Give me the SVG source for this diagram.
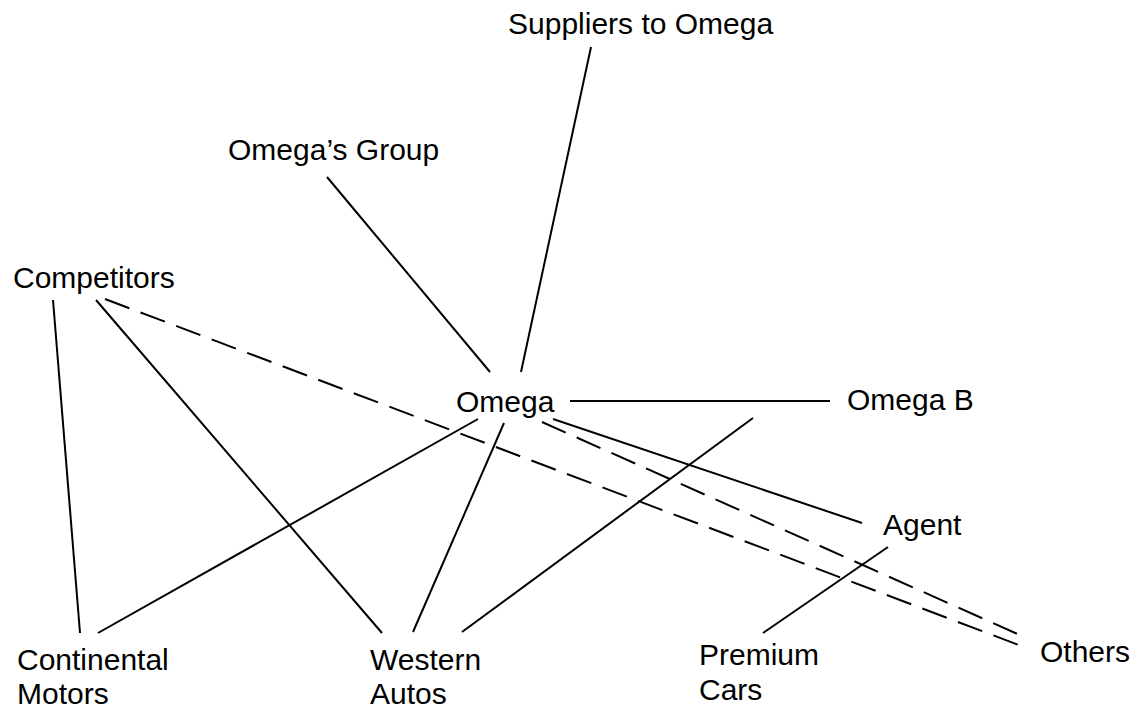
<svg xmlns="http://www.w3.org/2000/svg" width="1138" height="709" viewBox="0 0 1138 709">
  <style>
    .lbl { font-family: "Liberation Sans", Arial, sans-serif; font-size: 30px; fill: #000; }
    .ln { stroke: #000; stroke-width: 2; fill: none; stroke-linecap: butt; }
    .dash { stroke-dasharray: 26 12; }
  </style>
  <rect width="1138" height="709" fill="#fff"/>

  <g id="connectors">
    <!-- solid ties -->
    <line class="ln" x1="591" y1="47" x2="521" y2="372"/>
    <line class="ln" x1="327" y1="177" x2="490" y2="372"/>
    <line class="ln" x1="53" y1="300" x2="80" y2="633"/>
    <line class="ln" x1="96" y1="300" x2="382" y2="633"/>
    <line class="ln" x1="478" y1="419" x2="98" y2="633"/>
    <line class="ln" x1="504" y1="423" x2="413" y2="632"/>
    <line class="ln" x1="570" y1="401" x2="830" y2="401"/>
    <line class="ln" x1="553" y1="419" x2="862" y2="523"/>
    <line class="ln" x1="753" y1="418" x2="462" y2="632"/>
    <line class="ln" x1="888" y1="547" x2="763" y2="633"/>
    <!-- dashed ties -->
    <line class="ln dash" x1="105" y1="299" x2="1024" y2="647"/>
    <line class="ln dash" x1="542" y1="422" x2="1022" y2="636"/>
  </g>

  <g id="suppliers"><text class="lbl" x="508" y="34">Suppliers to Omega</text></g>
  <g id="omegas-group"><text class="lbl" x="228" y="160">Omega’s Group</text></g>
  <g id="competitors"><text class="lbl" x="13" y="288">Competitors</text></g>
  <g id="omega"><text class="lbl" x="456" y="412">Omega</text></g>
  <g id="omega-b"><text class="lbl" x="847" y="410">Omega B</text></g>
  <g id="agent"><text class="lbl" x="883" y="535">Agent</text></g>
  <g id="continental-motors">
    <text class="lbl" x="17" y="670">Continental</text>
    <text class="lbl" x="17" y="704">Motors</text>
  </g>
  <g id="western-autos">
    <text class="lbl" x="370" y="670">Western</text>
    <text class="lbl" x="370" y="704">Autos</text>
  </g>
  <g id="premium-cars">
    <text class="lbl" x="699" y="665">Premium</text>
    <text class="lbl" x="699" y="700">Cars</text>
  </g>
  <g id="others"><text class="lbl" x="1040" y="662">Others</text></g>
</svg>
